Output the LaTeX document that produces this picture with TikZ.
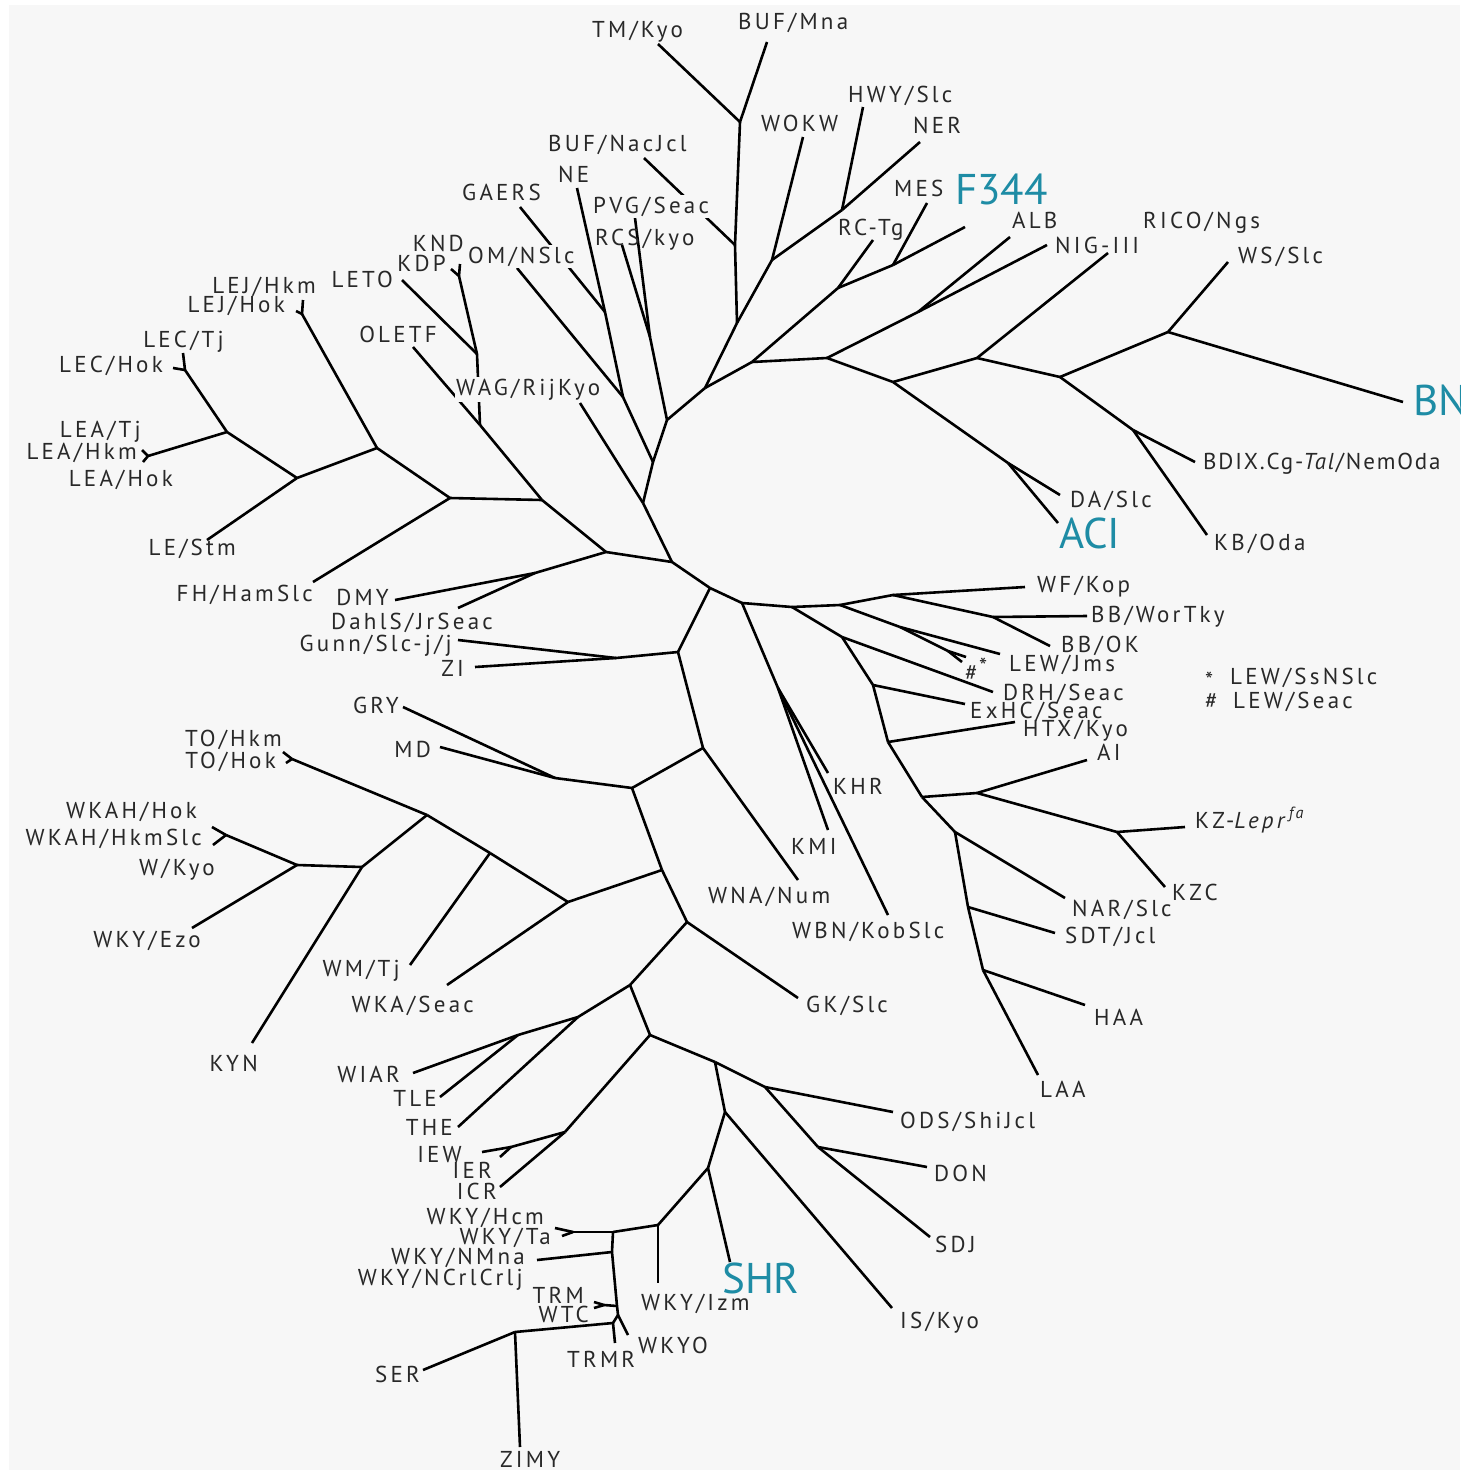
\documentclass[tikz,border=0pt]{standalone}
\usepackage{fontspec}
\newfontfamily\labfont{PT Sans}[LetterSpace=14]
\newfontfamily\tightfont{PT Sans}[LetterSpace=8]
\newfontfamily\keyfont{PT Sans}
\definecolor{paper}{RGB}{247,247,247}
\definecolor{ink}{RGB}{40,40,40}
\definecolor{strain}{RGB}{30,140,165}
\begin{document}
\begin{tikzpicture}[x=1pt,y=-1pt,
  br/.style={line width=2.6pt, line join=round},
  lab/.style={inner sep=0pt, text=ink, font=\labfont\fontsize{23}{26}\selectfont},
  labL/.style={lab, anchor=base west},
  labR/.style={lab, anchor=base east},
  key/.style={inner sep=0pt, text=strain, anchor=base west, font=\keyfont\fontsize{43}{46}\selectfont},
  mask/.style={fill=paper, inner ysep=2pt, inner xsep=1pt}]
\useasboundingbox (0,0) rectangle (1460,1470);
\fill[white] (0,0) rectangle (1460,1470);
\fill[paper] (9,5) rectangle (1460,1470);

% ---------- internal nodes and tips ----------
% LE clade (upper left)
\coordinate (lejf) at (302,314); \coordinate (lejA) at (303,300); \coordinate (lejB) at (296,311);
\coordinate (lecf) at (185,370); \coordinate (lecA) at (183,353); \coordinate (lecB) at (173,368);
\coordinate (leaf) at (148,456); \coordinate (leaA) at (142,450); \coordinate (leaB) at (143,462);
\coordinate (n1) at (227,432);
\coordinate (n2) at (297,478);
\coordinate (lestm) at (207,540);
\coordinate (n3) at (377,448);
\coordinate (n4) at (450,498);
\coordinate (fhham) at (313,582);
\coordinate (n5) at (542,500);
\coordinate (oletf) at (413,347);
\coordinate (n6) at (480,425);
\coordinate (n7) at (477,354);
\coordinate (leto) at (402,280);
\coordinate (kdpf) at (459,276); \coordinate (kdpA) at (451,269); \coordinate (kdpB) at (460,264);
\coordinate (n8) at (606,552);
\coordinate (dmyn) at (535,573); \coordinate (dmy) at (395,600); \coordinate (dahls) at (458,608);
\coordinate (n9) at (672,562);
% upper centre
\coordinate (n10) at (643,503);
\coordinate (wag) at (580,403);
\coordinate (n11) at (653,462);
\coordinate (n12) at (623,397);
\coordinate (omnslc) at (517,268);
\coordinate (n13) at (605,312);
\coordinate (ne) at (577,188);
\coordinate (gaers) at (520,207);
\coordinate (n14) at (667,420);
\coordinate (n15) at (650,337);
\coordinate (rcs) at (622,245);
\coordinate (pvg) at (635,218);
\coordinate (n16) at (705,388);
\coordinate (n17) at (737,323);
\coordinate (n18) at (735,245);
\coordinate (n19) at (740,122);
\coordinate (tmkyo) at (658,44);
\coordinate (bufmna) at (767,42);
\coordinate (bufnac) at (644,158);
\coordinate (n20) at (772,260);
\coordinate (wokw) at (803,137);
\coordinate (n21) at (842,210);
\coordinate (hwy) at (863,107);
\coordinate (ner) at (920,142);
% upper right
\coordinate (n22) at (752,362);
\coordinate (n23) at (838,288);
\coordinate (rctg) at (873,240);
\coordinate (n24) at (893,265);
\coordinate (mes) at (927,203);
\coordinate (f344) at (965,227);
\coordinate (n25) at (827,358);
\coordinate (n26) at (918,312);
\coordinate (alb) at (1010,237);
\coordinate (nig) at (1047,245);
\coordinate (n27) at (893,382);
\coordinate (n28) at (977,358);
\coordinate (rico) at (1108,253);
\coordinate (n29) at (1060,377);
\coordinate (n30) at (1168,332);
\coordinate (wsslc) at (1228,262);
\coordinate (bn) at (1403,402);
\coordinate (n31) at (1133,430);
\coordinate (bdix) at (1195,462);
\coordinate (kboda) at (1207,535);
\coordinate (n32) at (1008,463);
\coordinate (daslc) at (1060,495);
\coordinate (aci) at (1058,523);
% right middle
\coordinate (n33) at (710,588);
\coordinate (n34) at (742,603);
\coordinate (n35) at (792,607);
\coordinate (n36) at (840,605);
\coordinate (n37) at (893,595);
\coordinate (wfkop) at (1025,587);
\coordinate (n38) at (993,617);
\coordinate (bbwor) at (1087,616);
\coordinate (bbok) at (1050,646);
\coordinate (n39) at (900,627);
\coordinate (lewjms) at (1000,654);
\coordinate (lewf) at (948,651); \coordinate (lewA) at (966,657); \coordinate (lewB) at (962,662);
\coordinate (n40) at (842,637);
\coordinate (drh) at (993,692);
\coordinate (n41) at (873,685);
\coordinate (exhc) at (965,704);
\coordinate (n42) at (888,742);
\coordinate (htx) at (1015,722);
\coordinate (n43) at (922,797);
\coordinate (n44) at (977,793);
\coordinate (ai) at (1087,760);
\coordinate (n45) at (1117,832);
\coordinate (kzlepr) at (1185,827);
\coordinate (kzc) at (1165,887);
\coordinate (n46) at (955,832);
\coordinate (narslc) at (1065,898);
\coordinate (n47) at (968,907);
\coordinate (sdt) at (1055,933);
\coordinate (n48) at (983,970);
\coordinate (haa) at (1085,1005);
\coordinate (laa) at (1038,1075);
\coordinate (n49) at (778,688);
\coordinate (khr) at (828,773);
\coordinate (kmi) at (828,830);
\coordinate (wbn) at (888,915);
% centre left and lower left
\coordinate (n51) at (678,652);
\coordinate (n52) at (616,658);
\coordinate (gunn) at (458,640);
\coordinate (zi) at (475,667);
\coordinate (n53) at (703,748);
\coordinate (wna) at (798,880);
\coordinate (n54) at (632,788);
\coordinate (n55) at (555,778);
\coordinate (gry) at (403,707);
\coordinate (md) at (440,747);
\coordinate (n56) at (662,870);
\coordinate (n57) at (568,902);
\coordinate (wka) at (447,985);
\coordinate (n58) at (490,853);
\coordinate (wmtj) at (410,965);
\coordinate (n59) at (427,815);
\coordinate (tof) at (292,759); \coordinate (toA) at (283,752); \coordinate (toB) at (286,763);
\coordinate (n60) at (362,867);
\coordinate (kyn) at (252,1043);
\coordinate (n61) at (297,865);
\coordinate (wkahf) at (226,835); \coordinate (wkahA) at (212,827); \coordinate (wkahB) at (213,845);
\coordinate (wkyezo) at (192,928);
% lower clade
\coordinate (n62) at (687,922);
\coordinate (gkslc) at (798,998);
\coordinate (n63) at (630,985);
\coordinate (n64) at (578,1017);
\coordinate (n65) at (518,1035);
\coordinate (wiar) at (413,1073);
\coordinate (tle) at (440,1097);
\coordinate (the) at (458,1127);
\coordinate (n66) at (650,1035);
\coordinate (n67) at (565,1132);
\coordinate (iewf) at (511,1147); \coordinate (iew) at (482,1152); \coordinate (ier) at (500,1157);
\coordinate (icr) at (500,1187);
\coordinate (n68) at (715,1062);
\coordinate (n69) at (765,1087);
\coordinate (ods) at (893,1112);
\coordinate (n70) at (818,1147);
\coordinate (don) at (927,1167);
\coordinate (sdj) at (930,1237);
\coordinate (n71) at (725,1112);
\coordinate (iskyo) at (892,1308);
\coordinate (n72) at (708,1168);
\coordinate (shr) at (730,1262);
\coordinate (n73) at (658,1225);
\coordinate (wkyizm) at (658,1283);
\coordinate (n74) at (613,1232);
\coordinate (hcmf) at (573,1232); \coordinate (hcm) at (555,1228); \coordinate (ta) at (562,1236);
\coordinate (n75) at (612,1252);
\coordinate (nmna) at (537,1260);
\coordinate (n76) at (617,1306);
\coordinate (trmf) at (604,1305); \coordinate (trm) at (594,1302); \coordinate (wtc) at (594,1308);
\coordinate (n77) at (618,1315);
\coordinate (wkyo) at (628,1335);
\coordinate (n78) at (613,1323);
\coordinate (trmr) at (615,1343);
\coordinate (n79) at (515,1332);
\coordinate (ser) at (423,1370);
\coordinate (zimy) at (520,1447);

% ---------- branches ----------
\foreach \a/\b in {
  lejf/lejA, lejf/lejB, lejf/n3, lecf/lecA, lecf/lecB, lecf/n1,
  leaf/leaA, leaf/leaB, leaf/n1, n1/n2, n2/lestm, n2/n3, n3/n4, n4/fhham, n4/n5,
  n5/n6, n6/oletf, n6/n7, n7/leto, n7/kdpf, kdpf/kdpA, kdpf/kdpB,
  n5/n8, n8/dmyn, dmyn/dmy, dmyn/dahls, n8/n9,
  n9/n10, n10/wag, n10/n11, n11/n12, n12/omnslc, n12/n13, n13/ne, n13/gaers,
  n11/n14, n14/n15, n15/rcs, n15/pvg, n14/n16, n16/n17, n17/n18, n18/n19,
  n19/tmkyo, n19/bufmna, n18/bufnac, n17/n20, n20/wokw, n20/n21, n21/hwy, n21/ner,
  n16/n22, n22/n23, n23/rctg, n23/n24, n24/mes, n24/f344,
  n22/n25, n25/n26, n26/alb, n26/nig, n25/n27, n27/n28, n28/rico, n28/n29,
  n29/n30, n30/wsslc, n30/bn, n29/n31, n31/bdix, n31/kboda,
  n27/n32, n32/daslc, n32/aci,
  n9/n33, n33/n34, n34/n35, n35/n36, n36/n37, n37/wfkop, n37/n38, n38/bbwor, n38/bbok,
  n36/n39, n39/lewjms, n39/lewf, lewf/lewA, lewf/lewB,
  n35/n40, n40/drh, n40/n41, n41/exhc, n41/n42, n42/htx, n42/n43, n43/n44, n44/ai,
  n44/n45, n45/kzlepr, n45/kzc, n43/n46, n46/narslc, n46/n47, n47/sdt, n47/n48,
  n48/haa, n48/laa, n34/n49, n49/khr, n49/kmi, n49/wbn,
  n33/n51, n51/n52, n52/gunn, n52/zi, n51/n53, n53/wna, n53/n54, n54/n55, n55/gry, n55/md,
  n54/n56, n56/n57, n57/wka, n57/n58, n58/wmtj, n58/n59, n59/tof, tof/toA, tof/toB,
  n59/n60, n60/kyn, n60/n61, n61/wkahf, wkahf/wkahA, wkahf/wkahB, n61/wkyezo,
  n56/n62, n62/gkslc, n62/n63, n63/n64, n64/n65, n65/wiar, n65/tle, n64/the,
  n63/n66, n66/n67, n67/iewf, iewf/iew, iewf/ier, n67/icr,
  n66/n68, n68/n69, n69/ods, n69/n70, n70/don, n70/sdj,
  n68/n71, n71/iskyo, n71/n72, n72/shr, n72/n73, n73/wkyizm, n73/n74,
  n74/hcmf, hcmf/hcm, hcmf/ta, n74/n75, n75/nmna, n75/n76, n76/trmf, trmf/trm, trmf/wtc,
  n76/n77, n77/wkyo, n77/n78, n78/trmr, n78/n79, n79/ser, n79/zimy}
  \draw[br] (\a) -- (\b);

% ---------- labels ----------
% top
\node[labL] (tTMKyo) at (592,37) {TM/Kyo};
\node[labL] (tBUFMna) at (738,29) {BUF/Mna};
\node[labL] (tHWY) at (848,102) {HWY/Slc};
\node[labL] (tWOKW) at (761,131) {WOKW};
\node[labL] (tNER) at (913,133) {NER};
\node[labL] (tBUFNac) at (548,151) {BUF/NacJcl};
\node[labL] (tNE) at (558,182) {NE};
\node[labL] (tMES) at (894,196) {MES};
\node[labL, mask] (tPVG) at (592,213) {PVG/Seac};
\node[labL] (tRCTg) at (838,235) {RC-Tg};
\node[labL] (tRCS) at (595,245) {RCS/kyo};
\node[labL] (tGAERS) at (462,200) {GAERS};
\node[labL, mask] (tOM) at (467,263) {OM/NSlc};
\node[labL, mask] (tWAG) at (455,395) {WAG/RijKyo};
\node[labL] (tALB) at (1012,228) {ALB};
\node[labL] (tRICO) at (1143,228) {RICO/Ngs};
\node[labL] (tNIG) at (1055,253) {NIG-III};
\node[labL] (tWS) at (1238,263) {WS/Slc};
\node[labL, font=\tightfont\fontsize{23}{26}\selectfont] (tBDIX) at (1203,469) {BDIX.Cg-\textit{Tal}/NemOda};
\node[labL] (tDA) at (1070,507) {DA/Slc};
\node[labL] (tKB) at (1214,550) {KB/Oda};
\node[key] (tF344) at (955,204) {F344};
\node[key] (tBN) at (1413,415) {BN};
\node[key] (tACI) at (1059,548) {ACI};
\node[key] (tSHR) at (722,1293) {SHR};
% left
\node[labR] (tLEJHkm) at (316,293) {LEJ/Hkm};
\node[labR] (tLEJHok) at (285,312) {LEJ/Hok};
\node[labR] (tLECTj) at (224,347) {LEC/Tj};
\node[labR] (tLECHok) at (163,372) {LEC/Hok};
\node[labR] (tLEATj) at (141,437) {LEA/Tj};
\node[labR] (tLEAHkm) at (137,459) {LEA/Hkm};
\node[labR] (tLEAHok) at (173,486) {LEA/Hok};
\node[labR] (tKND) at (464,251) {KND};
\node[labR] (tKDP) at (446,271) {KDP};
\node[labR] (tLETO) at (393,287) {LETO};
\node[labR] (tOLETF) at (437,342) {OLETF};
\node[labR] (tLEStm) at (236,555) {LE/Stm};
\node[labR] (tFH) at (313,601) {FH/HamSlc};
\node[labR] (tDMY) at (389,605) {DMY};
\node[labR] (tDahlS) at (493,629) {DahlS/JrSeac};
\node[labR] (tGunn) at (452,651) {Gunn/Slc-j/j};
\node[labR] (tZI) at (464,676) {ZI};
\node[labR] (tGRY) at (399,713) {GRY};
\node[labR] (tMD) at (431,757) {MD};
\node[labR] (tTOHkm) at (282,746) {TO/Hkm};
\node[labR] (tTOHok) at (276,768) {TO/Hok};
\node[labR] (tWKAHHok) at (197,818) {WKAH/Hok};
\node[labR] (tWKAHHkm) at (202,845) {WKAH/HkmSlc};
\node[labR] (tWKyo) at (215,875) {W/Kyo};
\node[labR] (tWKYEzo) at (201,947) {WKY/Ezo};
\node[labR] (tWMTj) at (400,976) {WM/Tj};
\node[labR] (tWKA) at (474,1012) {WKA/Seac};
\node[labR] (tKYN) at (258,1071) {KYN};
\node[labR] (tWIAR) at (400,1082) {WIAR};
\node[labR] (tTLE) at (437,1106) {TLE};
\node[labR] (tTHE) at (453,1135) {THE};
\node[labR] (tIEW) at (462,1162) {IEW};
\node[labR] (tIER) at (492,1178) {IER};
\node[labR] (tICR) at (497,1199) {ICR};
\node[labR] (tHcm) at (544,1224) {WKY/Hcm};
\node[labR] (tTa) at (551,1244) {WKY/Ta};
\node[labR] (tNMna) at (525,1264) {WKY/NMna};
\node[labR] (tNCrl) at (523,1285) {WKY/NCrlCrlj};
\node[labR] (tTRM) at (584,1303) {TRM};
\node[labR] (tWTC) at (589,1322) {WTC};
\node[labR] (tSER) at (420,1382) {SER};
% bottom and right
\node[labL] (tWKYO) at (638,1353) {WKYO};
\node[labL] (tIzm) at (641,1310) {WKY/Izm};
\node[labL] (tTRMR) at (567,1367) {TRMR};
\node[labL] (tZIMY) at (500,1467) {ZIMY};
\node[labL] (tIS) at (900,1328) {IS/Kyo};
\node[labL] (tSDJ) at (935,1252) {SDJ};
\node[labL] (tDON) at (934,1181) {DON};
\node[labL] (tODS) at (900,1128) {ODS/ShiJcl};
\node[labL] (tGK) at (806,1012) {GK/Slc};
\node[labL] (tWBN) at (792,938) {WBN/KobSlc};
\node[labL] (tWNA) at (708,903) {WNA/Num};
\node[labL] (tKMI) at (791,854) {KMI};
\node[labL] (tKHR) at (833,794) {KHR};
\node[labL] (tWF) at (1037,592) {WF/Kop};
\node[labL] (tBBW) at (1091,622) {BB/WorTky};
\node[labL] (tBBOK) at (1061,652) {BB/OK};
\node[labL] (tLEWJms) at (1009,671) {LEW/Jms};
\node[labL] (tHash) at (965,680) {\#};
\node[labL] (tStar) at (979,674) {*};
\node[labL] (tDRH) at (1003,700) {DRH/Seac};
\node[labL] (tExHC) at (970,718) {ExHC/Seac};
\node[labL] (tHTX) at (1023,736) {HTX/Kyo};
\node[labL] (tAI) at (1097,760) {AI};
\node[labL] (tKZ) at (1195,828) {KZ-\textit{Lepr}\textsuperscript{\textit{fa}}};
\node[labL] (tKZC) at (1172,900) {KZC};
\node[labL] (tNAR) at (1072,916) {NAR/Slc};
\node[labL] (tSDT) at (1065,943) {SDT/Jcl};
\node[labL] (tHAA) at (1094,1025) {HAA};
\node[labL] (tLAA) at (1040,1097) {LAA};
% key to the two marked strains
\node[labL] (kStar) at (1205,688) {*};
\node[labL] (kStarT) at (1230,684) {LEW/SsNSlc};
\node[labL] (kHash) at (1205,708) {\#};
\node[labL] (kHashT) at (1233,708) {LEW/Seac};
\end{tikzpicture}
\end{document}
